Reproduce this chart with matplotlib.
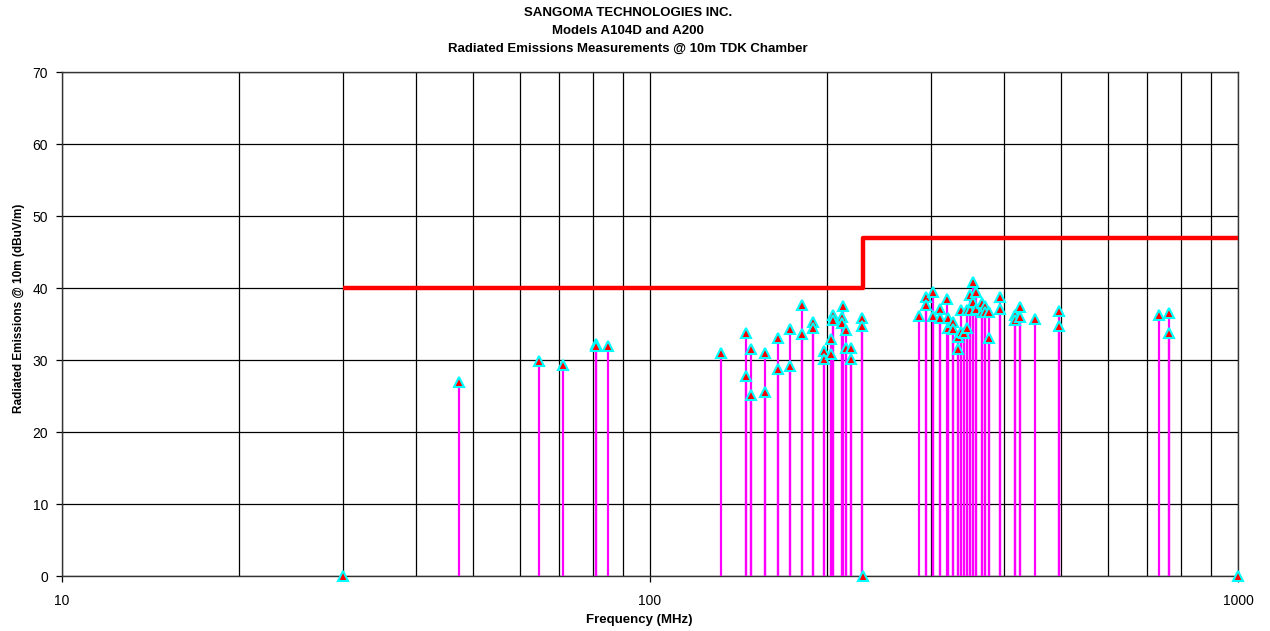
import numpy as np
import matplotlib
matplotlib.use("Agg")
import matplotlib.pyplot as plt
from matplotlib.ticker import FixedLocator, NullFormatter

plt.rcParams['font.family'] = ['Liberation Sans', 'DejaVu Sans']

# measured emissions (MHz, dBuV/m)
freq_mhz = [47.3, 64.8, 71.1, 80.9, 80.9, 84.8,
            131.9, 145.8, 145.8, 148.3, 148.3, 157.1, 157.1, 165.1, 165.1,
            173.1, 173.1, 181.4, 181.4, 189.6, 189.6, 197.7, 197.7,
            203.2, 203.2, 204.6, 204.6, 211.8, 211.8, 213.3, 215.2, 215.2,
            219.8, 219.8, 229.6, 229.6,
            287.1, 295.1, 295.1, 302.9, 302.9, 311.7, 311.7, 319.6,
            321.6, 321.6, 328.0, 328.0, 334.5, 334.5, 337.6, 337.6, 342.4,
            346.5, 346.5, 350.2, 350.2, 354.3, 354.3, 359.0, 359.0,
            366.6, 366.6, 371.8, 371.8, 377.6, 377.6, 393.7, 393.7,
            417.5, 417.5, 426.4, 426.4, 451.0, 496.7, 496.7,
            733.7, 763.2, 763.2]
level_dbuv = [26.9, 29.9, 29.3, 32.2, 32.0, 31.9,
              31.0, 33.8, 27.8, 31.5, 25.2, 31.0, 25.6, 33.1, 28.8,
              34.3, 29.1, 37.7, 33.6, 35.3, 34.5, 31.2, 30.1,
              32.9, 30.8, 36.3, 35.6, 36.0, 35.1, 37.5, 34.1, 31.6,
              31.6, 30.1, 35.9, 34.7,
              36.1, 38.7, 37.7, 39.4, 36.1, 37.1, 35.9, 38.5,
              35.9, 34.5, 35.3, 34.3, 31.5, 33.2, 37.0, 33.9, 33.8,
              34.5, 36.9, 39.0, 36.9, 40.8, 38.0, 39.4, 37.1,
              37.9, 36.7, 37.5, 36.7, 36.6, 33.0, 38.8, 37.1,
              36.3, 35.6, 37.3, 36.0, 35.7, 36.8, 34.7,
              36.3, 36.5, 33.7]

# points plotted at zero (band edges)
zero_freq = [30, 230, 1000]
zero_level = [0, 0, 0]

# limit @ 10m
limit_freq = [30, 230, 230, 1000]
limit_level = [40, 40, 47, 47]

title_lines = ['SANGOMA TECHNOLOGIES INC.',
               'Models A104D and A200',
               'Radiated Emissions Measurements @ 10m TDK Chamber']

W, H = 1270, 631
fig = plt.figure(figsize=(W / 100, H / 100), dpi=100)
ax = fig.add_axes([62 / W, 1 - 576 / H, 1176 / W, 504 / H])

ax.plot(limit_freq, limit_level, color='#ff0000', lw=3.2, solid_capstyle='butt', zorder=3)
ax.vlines(freq_mhz, 0, level_dbuv, color='#ff00ff', lw=1.6, zorder=4)
ax.plot(freq_mhz, level_dbuv, ls='none', marker='^', ms=7, mfc='#ff0000',
        mec='#00ffff', mew=1.5, zorder=5)
ax.plot(zero_freq, zero_level, ls='none', marker='^', ms=7, mfc='#ff0000',
        mec='#00ffff', mew=1.5, zorder=5, clip_on=False)

ax.set_xscale('log')
ax.set_xlim(10, 1000)
ax.set_ylim(0, 70)
ax.set_yticks(np.arange(0, 71, 10))
ax.xaxis.set_major_locator(FixedLocator([10, 100, 1000]))
ax.xaxis.set_major_formatter(plt.FuncFormatter(lambda v, p: f"{v:g}"))
ax.xaxis.set_minor_locator(FixedLocator([20, 30, 40, 50, 60, 70, 80, 90,
                                         200, 300, 400, 500, 600, 700, 800, 900]))
ax.xaxis.set_minor_formatter(NullFormatter())
ax.grid(True, which='both', color='black', lw=0.9)
ax.tick_params(axis='x', which='minor', length=0)
ax.tick_params(axis='both', which='major', length=4, width=0.9, labelsize=10)
ax.tick_params(axis='x', which='major', pad=9)
ax.tick_params(axis='y', which='major', pad=6)
for s in ax.spines.values():
    s.set_linewidth(1.0)
    s.set_color('#333333')
ax.set_axisbelow(True)

# titles and axis labels placed in figure pixels
for i, line in enumerate(title_lines):
    fig.text(628 / W, 1 - (13 + 18 * i) / H, line, ha='center', va='center',
             fontsize=9.5, fontweight='bold')
fig.text(639 / W, 1 - 620 / H, 'Frequency (MHz)', ha='center', va='center',
         fontsize=9.5, fontweight='bold')
fig.text(19 / W, 1 - 308 / H, 'Radiated Emissions @ 10m (dBuV/m)', ha='center',
         va='center', rotation=90, fontsize=8.5, fontweight='bold')

plt.savefig('out.png', dpi=100)
